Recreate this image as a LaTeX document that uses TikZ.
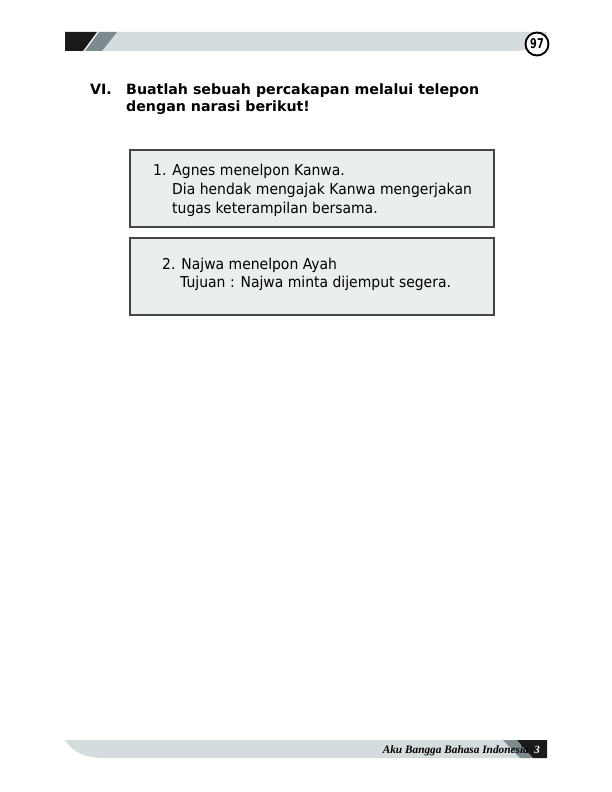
\documentclass[tikz,border=0pt]{standalone}
\usepackage{fontspec}
\newfontfamily\dejav[FakeStretch=0.93]{DejaVu Sans}
\newfontfamily\dejavb{DejaVu Sans}
\newfontfamily\footf{Liberation Serif}
\definecolor{bandlight}{HTML}{D5DCDE}
\definecolor{bandgray}{HTML}{7E8B8E}
\definecolor{bandblack}{HTML}{1A1A1A}
\definecolor{boxfill}{HTML}{EAEEEF}
\definecolor{boxline}{HTML}{454545}
\begin{document}
\begin{tikzpicture}[x=1pt,y=-1pt,
  txt/.style={inner sep=0pt,anchor=base west,font=\dejav\fontsize{15}{17}\selectfont},
  ttl/.style={inner sep=0pt,anchor=base west,font=\dejavb\bfseries\fontsize{14.2}{16}\selectfont},
  panel/.style={draw=boxline,line width=1.3pt,fill=boxfill}]
\useasboundingbox (0,0) rectangle (612,792);
\fill[white] (0,0) rectangle (612,792);
% top band
\fill[bandlight] (102,51) -- (117,32) -- (547,32) -- (547,40) .. controls (541,48) and (532,51) .. (505,51) -- cycle;
\fill[bandblack] (65,32) -- (97,32) -- (83,51) -- (65,51) -- cycle;
\fill[bandgray] (99,32) -- (117,32) -- (102,51) -- (85,51) -- cycle;
\node[circle,draw=black,line width=1.9pt,fill=white,minimum size=23pt,inner sep=0pt] (pg) at (537,44) {};
\node[inner sep=0pt,xscale=0.72,font=\dejavb\bfseries\fontsize{13.5}{13.5}\selectfont] (pgn) at (pg.center) {97};
% bottom band
\fill[bandlight] (65,740) -- (520,740) -- (520,758) -- (105,758) .. controls (85,758) and (72,752) .. (65,740) -- cycle;
\fill[bandgray] (503,740) -- (517,740) -- (533,758) -- (520,758) -- cycle;
\fill[bandblack] (517,740) -- (547,740) -- (547,758) -- (533,758) -- cycle;
\node[inner sep=0pt,anchor=base east,font=\footf\bfseries\itshape\fontsize{11.3}{13}\selectfont] (foot) at (529,753) {Aku Bangga Bahasa Indonesia};
\node[inner sep=0pt,anchor=base,text=white,font=\footf\bfseries\itshape\fontsize{11}{12}\selectfont] (footn) at (537,753) {3};
% title
\node[ttl] (vi) at (90,94.5) {VI.};
\node[ttl] (t1) at (126,94.5) {Buatlah sebuah percakapan melalui telepon};
\node[ttl] (t2) at (126,111) {dengan narasi berikut!};
% boxes
\draw[panel] (130,150) rectangle (494,227);
\draw[panel] (130,238) rectangle (494,315);
\node[txt] (a1) at (153,175) {1. Agnes menelpon Kanwa.};
\node[txt] (a2) at (172,194) {Dia hendak mengajak Kanwa mengerjakan};
\node[txt] (a3) at (172,213) {tugas keterampilan bersama.};
\node[txt] (b1) at (162,269) {2. Najwa menelpon Ayah};
\node[txt] (b2) at (180,287) {Tujuan : Najwa minta dijemput segera.};
\end{tikzpicture}
\end{document}
